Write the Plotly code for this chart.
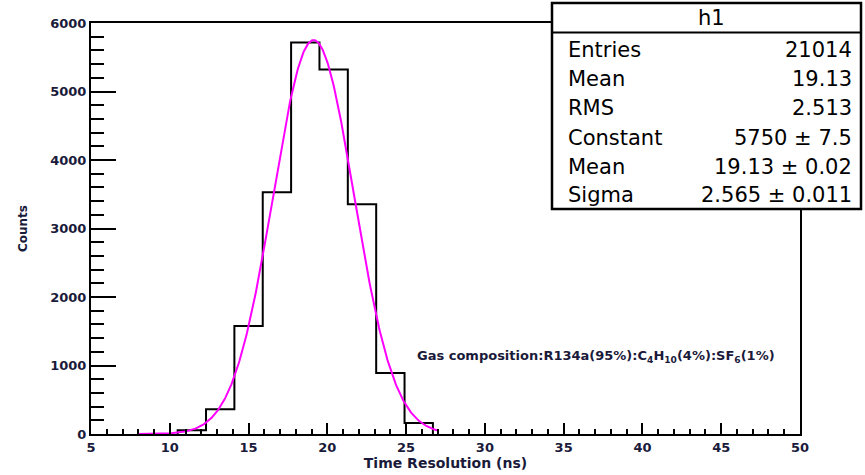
import numpy as np
import plotly.graph_objects as go

# Histogram h1: bin edges (ns) and counts per bin
bin_edges = [10.5, 12.3, 14.1, 15.9, 17.7, 19.5, 21.3, 23.1, 24.9, 26.7]
bin_counts = [55, 360, 1575, 3530, 5715, 5320, 3355, 890, 160]

# Gaussian fit parameters and statistics box contents
fit_constant = 5750
fit_mean = 19.13
fit_sigma = 2.565
fit_range = [8.0, 27.0]

stat_labels = ["Entries", "Mean", "RMS", "Constant", "Mean", "Sigma"]
stat_values = ["21014", "19.13", "2.513", "5750 \u00b1 7.5", "19.13 \u00b1 0.02", "2.565 \u00b1 0.011"]

x_ticks = [5, 10, 15, 20, 25, 30, 35, 40, 45, 50]
y_ticks = [0, 1000, 2000, 3000, 4000, 5000, 6000]

FONT = "DejaVu Sans"
LABEL_COLOR = "#1a1a3a"

# step outline of the histogram (closed down to the baseline at both ends)
step_x = [bin_edges[0]]
step_y = [0]
for i, c in enumerate(bin_counts):
    step_x += [bin_edges[i], bin_edges[i + 1]]
    step_y += [c, c]
step_x.append(bin_edges[-1])
step_y.append(0)

fx = np.linspace(fit_range[0], fit_range[1], 400)
fy = fit_constant * np.exp(-0.5 * ((fx - fit_mean) / fit_sigma) ** 2)

fig = go.Figure()
fig.add_trace(go.Scatter(x=step_x, y=step_y, mode="lines",
                         line=dict(color="black", width=2), hoverinfo="skip"))
fig.add_trace(go.Scatter(x=fx, y=fy, mode="lines",
                         line=dict(color="#ff00ff", width=2), hoverinfo="skip"))

fig.update_layout(
    width=865, height=475,
    margin=dict(l=91, r=65, t=23, b=41),
    paper_bgcolor="white", plot_bgcolor="white",
    showlegend=False,
    font=dict(family=FONT, color="black"),
)

fig.update_xaxes(
    range=[5, 50], tickvals=x_ticks, ticktext=[str(v) for v in x_ticks],
    ticks="inside", ticklen=11, tickwidth=2, tickcolor="black",
    minor=dict(dtick=1, ticks="inside", ticklen=5, tickwidth=2, tickcolor="black"),
    showline=True, linecolor="black", linewidth=2, mirror=True,
    showgrid=False, zeroline=False, automargin=False,
    tickfont=dict(family=FONT, size=13, weight="bold", color=LABEL_COLOR),
    title=dict(text="Time Resolution (ns)", standoff=5,
               font=dict(family=FONT, size=14, weight="bold", color=LABEL_COLOR)),
)
fig.update_yaxes(
    range=[0, 6000], tickvals=y_ticks, ticktext=[str(v) for v in y_ticks],
    ticks="inside", ticklen=25, tickwidth=2, tickcolor="black",
    minor=dict(dtick=200, ticks="inside", ticklen=13, tickwidth=2, tickcolor="black"),
    showline=True, linecolor="black", linewidth=2, mirror=True,
    showgrid=False, zeroline=False, automargin=False,
    tickfont=dict(family=FONT, size=13, weight="bold", color=LABEL_COLOR),
    title=dict(text="Counts", standoff=20,
               font=dict(family=FONT, size=12, weight="bold", color=LABEL_COLOR)),
)

# statistics box (paper coordinates relative to the plot area)
def px_x(p):
    return (p - 91) / 709.0

def px_y(p):
    return (434 - p) / 411.0

fig.add_shape(type="rect", xref="paper", yref="paper",
              x0=px_x(552), x1=px_x(861), y0=px_y(209), y1=px_y(3),
              line=dict(color="black", width=2.5), fillcolor="white", layer="above")
fig.add_shape(type="line", xref="paper", yref="paper",
              x0=px_x(552), x1=px_x(861), y0=px_y(32.5), y1=px_y(32.5),
              line=dict(color="black", width=2), layer="above")

fig.add_annotation(xref="paper", yref="paper", x=px_x(711), y=px_y(18),
                   text="h1", showarrow=False, xanchor="center", yanchor="middle",
                   font=dict(family=FONT, size=21, color="black"))

row_y = [50, 79, 107.5, 138, 167, 195]
for lab, val, ry in zip(stat_labels, stat_values, row_y):
    fig.add_annotation(xref="paper", yref="paper", x=px_x(566), y=px_y(ry),
                       text=lab, showarrow=False, xanchor="left", yanchor="middle",
                       font=dict(family=FONT, size=21, color="black"))
    fig.add_annotation(xref="paper", yref="paper", x=px_x(854), y=px_y(ry),
                       text=val, showarrow=False, xanchor="right", yanchor="middle",
                       font=dict(family=FONT, size=21, color="black"))

# gas composition label
fig.add_annotation(
    xref="paper", yref="paper", x=px_x(415), y=px_y(356),
    text="Gas composition:R134a(95%):C<sub>4</sub>H<sub>10</sub>(4%):SF<sub>6</sub>(1%)",
    showarrow=False, xanchor="left", yanchor="middle",
    font=dict(family=FONT, size=13, weight="bold", color=LABEL_COLOR),
)

fig.write_html("out.html")
